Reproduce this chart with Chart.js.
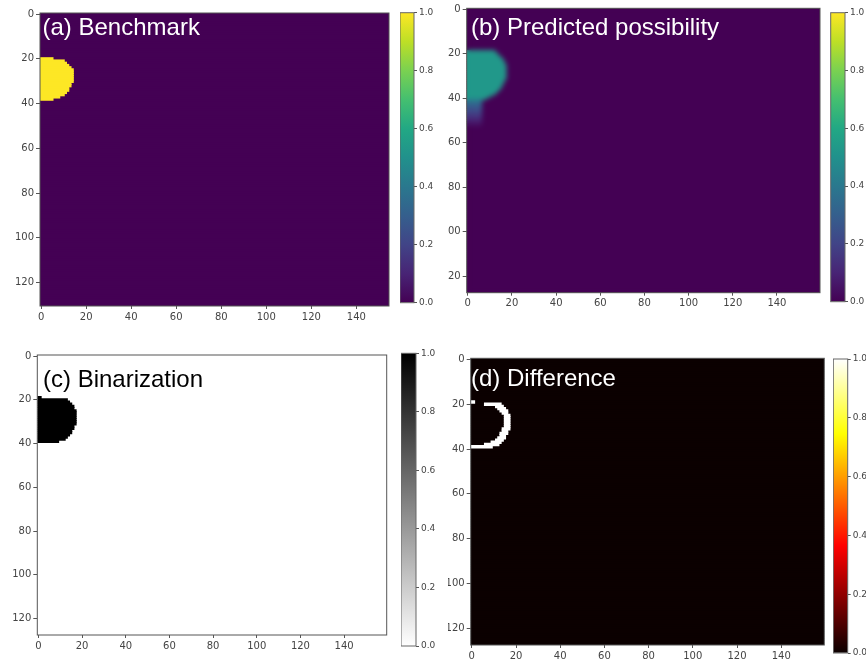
<!DOCTYPE html>
<html>
<head>
<meta charset="utf-8">
<title>Spot prediction panels</title>
<script src="https://cdn.jsdelivr.net/npm/chart.js@4.4.1/dist/chart.umd.min.js"></script>
<style>
    html, body { margin: 0; padding: 0; background: #fff; }
    body { position: relative; width: 866px; height: 663px; overflow: hidden; }
    canvas { position: absolute; }
</style>
</head>
<body>
<canvas id="panelA"></canvas>
<canvas id="barA"></canvas>
<canvas id="panelB"></canvas>
<canvas id="barB"></canvas>
<canvas id="panelC"></canvas>
<canvas id="barC"></canvas>
<canvas id="panelD"></canvas>
<canvas id="barD"></canvas>
<script>
// start: data
const xTicks = [0, 20, 40, 60, 80, 100, 120, 140]
const yTicks = [0, 20, 40, 60, 80, 100, 120]
const barTicks = [0, 0.2, 0.4, 0.6, 0.8, 1.0]

// image size of (a), (b), (c), (d) and the value of the empty field
const gridCols = [155, 160, 160, 160]
const gridRows = [131, 128, 128, 128]
const fieldValue = [0, 0, 0, 0]

// (a) benchmark: rows of the spot and the last filled column in each row
const benchRows = [20, 21, 22, 23, 24, 25, 26, 27, 28, 29, 30, 31, 32, 33, 34, 35, 36, 37, 38]
const benchEnds = [5, 10, 11, 12, 13, 14, 14, 14, 14, 14, 14, 13, 13, 12, 12, 11, 10, 8, 5]
const benchValues = [1, 1, 1, 1, 1, 1, 1, 1, 1, 1, 1, 1, 1, 1, 1, 1, 1, 1, 1]

// (b) predicted possibility
const predRows = [19, 20, 21, 22, 23, 24, 25, 26, 27, 28, 29, 30, 31, 32, 33, 34, 35, 36, 37, 38, 39, 40,
    41, 42, 43, 44, 45, 46, 47, 48, 49, 50, 51, 52]
const predEnds = [12, 13, 14, 15, 16, 16, 17, 17, 17, 17, 17, 17, 17, 16, 16, 15, 15, 14, 13, 12, 10, 8,
    6, 6, 6, 6, 6, 6, 6, 6, 6, 6, 6, 6]
const predValues = [0.53, 0.53, 0.53, 0.53, 0.53, 0.53, 0.53, 0.53, 0.53, 0.53, 0.53, 0.53, 0.53, 0.53,
    0.53, 0.53, 0.53, 0.53, 0.53, 0.53, 0.53, 0.53,
    0.42, 0.36, 0.32, 0.28, 0.25, 0.22, 0.19, 0.16, 0.13, 0.1, 0.07, 0.04]

// (c) binarization
const binRows = [19, 20, 21, 22, 23, 24, 25, 26, 27, 28, 29, 30, 31, 32, 33, 34, 35, 36, 37, 38, 39]
const binEnds = [1, 13, 14, 15, 16, 16, 17, 17, 17, 17, 17, 17, 17, 16, 16, 15, 15, 14, 13, 12, 9]
const binValues = [1, 1, 1, 1, 1, 1, 1, 1, 1, 1, 1, 1, 1, 1, 1, 1, 1, 1, 1, 1, 1]
// end: data

// start: colour maps
const viridis = [[0, '#440154'], [0.1, '#482475'], [0.2, '#414487'], [0.3, '#355f8d'], [0.4, '#2a788e'],
    [0.5, '#21918c'], [0.6, '#22a884'], [0.7, '#44bf70'], [0.8, '#7ad151'], [0.9, '#bddf26'], [1, '#fde725']]
const greys = [[0, '#ffffff'], [1, '#000000']]
const hot = [[0, '#0b0000'], [0.365, '#ff0000'], [0.746, '#ffff00'], [1, '#ffffff']]

function hexToRgb(h) {
    return [parseInt(h.slice(1, 3), 16), parseInt(h.slice(3, 5), 16), parseInt(h.slice(5, 7), 16)]
}
function colourAt(stops, t) {
    t = Math.max(0, Math.min(1, t))
    for (let i = 1; i < stops.length; i++) {
        if (t <= stops[i][0]) {
            const a = hexToRgb(stops[i - 1][1])
            const b = hexToRgb(stops[i][1])
            const f = (t - stops[i - 1][0]) / (stops[i][0] - stops[i - 1][0])
            return 'rgb(' + a.map((v, k) => Math.round(v + (b[k] - v) * f)).join(',') + ')'
        }
    }
    return stops[stops.length - 1][1]
}
// end: colour maps

// start: rows -> floating bars
function spotBars(rows, ends, values) {
    return rows.map((r, i) => ({ y: r, x: [-0.5, ends[i] + 0.5], v: values[i] }))
}
// difference = binarization minus benchmark, row by row
const diffBars = binRows.map((r, i) => {
    const k = benchRows.indexOf(r)
    const start = k < 0 ? 0 : benchEnds[k] + 1
    return { y: r, x: [start - 0.5, binEnds[i] + 0.5], v: 1 }
}).filter(b => b.x[1] > b.x[0])
// end: rows -> floating bars

// frame, panel caption, and the soft edge of the predicted map
const panelDecor = {
    id: 'panelDecor',
    afterDatasetsDraw(chart, args, opts) {
        if (!opts.soften) return
        const a = chart.chartArea
        const r = chart.currentDevicePixelRatio
        const off = document.createElement('canvas')
        off.width = chart.canvas.width
        off.height = chart.canvas.height
        const w = (a.right - a.left) * r
        const h = (a.bottom - a.top) * r
        off.getContext('2d').drawImage(chart.canvas, a.left * r, a.top * r, w, h, a.left * r, a.top * r, w, h)
        const ctx = chart.ctx
        ctx.save()
        ctx.beginPath()
        ctx.rect(a.left, a.top, a.right - a.left, a.bottom - a.top)
        ctx.clip()
        ctx.filter = 'blur(' + opts.soften + 'px)'
        ctx.drawImage(off, 0, 0, chart.width, chart.height)
        ctx.restore()
    },
    afterDraw(chart, args, opts) {
        const a = chart.chartArea
        const ctx = chart.ctx
        ctx.save()
        ctx.strokeStyle = opts.frame || '#555'
        ctx.lineWidth = 1
        ctx.strokeRect(a.left, a.top, a.right - a.left, a.bottom - a.top)
        if (opts.text) {
            ctx.fillStyle = opts.color
            ctx.font = '24px "Liberation Sans", Arial, sans-serif'
            ctx.textBaseline = 'alphabetic'
            ctx.fillText(opts.text, opts.x, opts.y)
        }
        ctx.restore()
    }
}
Chart.register(panelDecor)

const tickFont = { family: '"DejaVu Sans", sans-serif', size: 10 }

function place(id, view) {
    const canvas = document.getElementById(id)
    canvas.width = view.w
    canvas.height = view.h
    canvas.style.left = view.x + 'px'
    canvas.style.top = view.y + 'px'
    return canvas
}

function makePanel(id, k, view, plot, stops, spot, label) {
    const canvas = place(id, view)
    const field = []
    for (let r = 0; r < gridRows[k]; r++) {
        field.push({ y: r, x: [-0.5, gridCols[k] - 0.5], v: fieldValue[k] })
    }
    // one image row in pixels; bars a bit thicker so neighbouring rows overlap without seams
    const rowPx = (plot.b - plot.t) / gridRows[k]
    const cellColour = c => colourAt(stops, c.raw ? c.raw.v : 0)
    const barOpts = { grouped: false, borderWidth: 0, inflateAmount: 0, backgroundColor: cellColour }
    return new Chart(canvas, {
        type: 'bar',
        data: {
            // first dataset is painted last, so the spot goes first
            datasets: [
                Object.assign({ label: 'spot', data: spot, barThickness: rowPx + 1.1 }, barOpts),
                Object.assign({ label: 'field', data: field, barThickness: rowPx + 1.2 }, barOpts)
            ]
        },
        options: {
            indexAxis: 'y',
            responsive: false,
            animation: false,
            events: [],
            layout: { padding: { top: plot.t - view.y, right: view.x + view.w - plot.r, left: 0, bottom: 0 } },
            plugins: {
                legend: { display: false },
                tooltip: { enabled: false },
                panelDecor: {
                    text: label.text, color: label.color,
                    x: label.x - view.x, y: label.y - view.y,
                    soften: label.soften, frame: '#555'
                }
            },
            scales: {
                x: {
                    type: 'linear',
                    offset: false,
                    min: -0.5,
                    max: gridCols[k] - 0.5,
                    afterBuildTicks: s => { s.ticks = xTicks.map(v => ({ value: v })) },
                    afterFit: s => { s.height = view.y + view.h - plot.b },
                    grid: { offset: false, drawOnChartArea: false, tickLength: 3, color: '#555' },
                    border: { display: false },
                    ticks: { font: tickFont, color: '#444', padding: 2, autoSkip: false, maxRotation: 0 }
                },
                y: {
                    type: 'linear',
                    offset: false,
                    reverse: true,
                    min: -0.5,
                    max: gridRows[k] - 0.5,
                    afterBuildTicks: s => { s.ticks = yTicks.map(v => ({ value: v })) },
                    afterFit: s => { s.width = plot.l - view.x },
                    grid: { offset: false, drawOnChartArea: false, tickLength: 4, color: '#555' },
                    border: { display: false },
                    ticks: { font: tickFont, color: '#444', padding: 2, autoSkip: false }
                }
            }
        }
    })
}

function makeColorbar(id, view, bar, stops) {
    const canvas = place(id, view)
    return new Chart(canvas, {
        type: 'bar',
        data: {
            labels: [''],
            datasets: [{
                data: [[0, 1]],
                barPercentage: 1,
                categoryPercentage: 1,
                borderWidth: 0,
                backgroundColor: c => {
                    const a = c.chart.chartArea
                    if (!a) return stops[0][1]
                    const g = c.chart.ctx.createLinearGradient(0, a.bottom, 0, a.top)
                    stops.forEach(s => g.addColorStop(s[0], s[1]))
                    return g
                }
            }]
        },
        options: {
            responsive: false,
            animation: false,
            events: [],
            layout: { padding: { left: bar.l - view.x, top: bar.t - view.y, bottom: view.y + view.h - bar.b, right: 0 } },
            plugins: { legend: { display: false }, tooltip: { enabled: false }, panelDecor: { frame: '#666' } },
            scales: {
                x: { display: false },
                y: {
                    position: 'right',
                    min: 0,
                    max: 1,
                    afterBuildTicks: s => { s.ticks = barTicks.map(v => ({ value: v })) },
                    afterFit: s => { s.width = view.x + view.w - bar.r },
                    grid: { drawOnChartArea: false, tickLength: 3, color: '#555' },
                    border: { display: false },
                    ticks: {
                        font: { family: '"DejaVu Sans", sans-serif', size: 9 },
                        color: '#444',
                        padding: 2,
                        callback: v => v.toFixed(1)
                    }
                }
            }
        }
    })
}

// start: panels
makePanel('panelA', 0, { x: 0, y: 0, w: 395, h: 330 }, { l: 40, t: 13, r: 389, b: 306 }, viridis,
    spotBars(benchRows, benchEnds, benchValues), { text: '(a) Benchmark', color: '#fff', x: 42.5, y: 35 })
makeColorbar('barA', { x: 400, y: 4, w: 40, h: 308 }, { l: 400, t: 12.7, r: 414, b: 302.7 }, viridis)

makePanel('panelB', 1, { x: 448, y: 0, w: 374, h: 315 }, { l: 466.7, t: 8.3, r: 820, b: 292.7 }, viridis,
    spotBars(predRows, predEnds, predValues), { text: '(b) Predicted possibility', color: '#fff', x: 471, y: 35, soften: 2.5 })
makeColorbar('barB', { x: 830, y: 4, w: 36, h: 306 }, { l: 830.7, t: 12.7, r: 845, b: 301.7 }, viridis)

makePanel('panelC', 2, { x: 0, y: 340, w: 392, h: 323 }, { l: 37.3, t: 355, r: 386.7, b: 635 }, greys,
    spotBars(binRows, binEnds, binValues), { text: '(c) Binarization', color: '#000', x: 43, y: 386.5 })
makeColorbar('barC', { x: 401, y: 345, w: 40, h: 310 }, { l: 401, t: 353.3, r: 416, b: 646 }, greys)

makePanel('panelD', 3, { x: 448, y: 340, w: 380, h: 323 }, { l: 470.7, t: 358.3, r: 824.3, b: 645 }, hot,
    diffBars, { text: '(d) Difference', color: '#fff', x: 471, y: 385.5 })
makeColorbar('barD', { x: 833, y: 350, w: 33, h: 313 }, { l: 833.3, t: 359, r: 847.7, b: 653 }, hot)
// end: panels
</script>
</body>
</html>
